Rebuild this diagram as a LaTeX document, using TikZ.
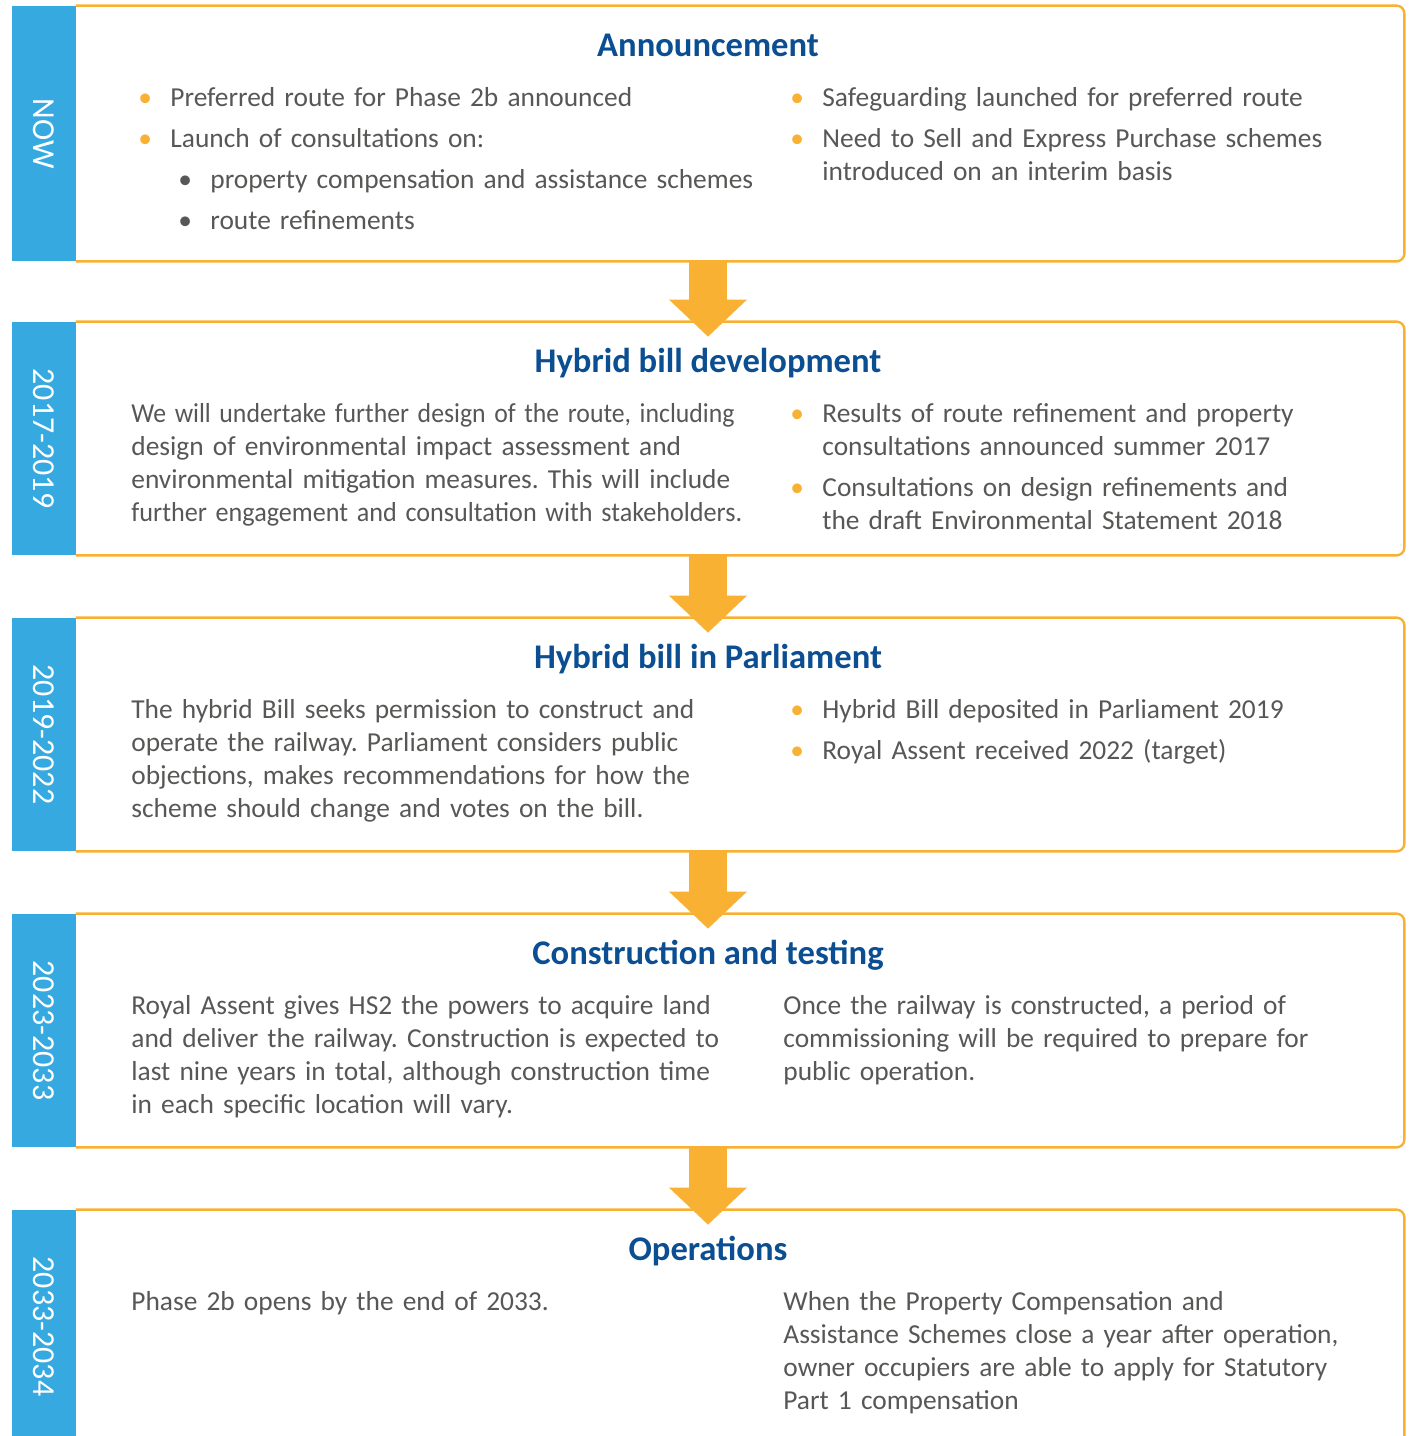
\documentclass[tikz,border=0pt]{standalone}
\usepackage{fontspec}
\usepackage{graphicx}
\setmainfont{Carlito}
\usetikzlibrary{arrows.meta}

\definecolor{tabblue}{HTML}{36A9E0}
\definecolor{stageorange}{HTML}{F8B133}
\definecolor{headblue}{HTML}{0B4E91}
\definecolor{bodygrey}{HTML}{575756}

% orange and grey bullet lines (items are split by \par)
\newcommand{\obul}{\hangindent=16pt\hangafter=1\makebox[16pt][l]{\textcolor{stageorange}{\textbullet}}}
\newcommand{\gbul}{\hangindent=36pt\hangafter=1\hspace*{20pt}\makebox[16pt][l]{\textcolor{bodygrey}{\textbullet}}}
% squeezed line
\newcommand{\tightline}[2]{\scalebox{#1}[1]{#2}}

\tikzset{
  stage/.style={minimum width=696pt, minimum height=116.5pt, inner sep=0pt},
  frameline/.style={draw=stageorange, line width=1.2pt, rounded corners=4pt},
  tabfill/.style={fill=tabblue},
  tabtext/.style={rotate=-90, text=white, font=\fontsize{16}{18}\selectfont},
  heading/.style={anchor=base, text=headblue, font=\fontsize{17.3}{19}\selectfont\bfseries},
  bodytext/.style={anchor=base west, inner sep=0pt, align=left, text=bodygrey,
    font=\fontsize{13.7}{16.65}\selectfont,
    execute at begin node={\setlength{\parskip}{4pt}\frenchspacing\hyphenpenalty=10000}},
  flowarrow/.style={draw=stageorange, line width=19pt,
    -{Triangle[width=39pt,length=18.5pt,line width=0pt]}, shorten >=-7.5pt}
}

\begin{document}
\begin{tikzpicture}[x=0.5pt,y=-0.5pt]
\useasboundingbox (0,0) rectangle (1409,1436);

% stages
\node[stage, minimum height=127.5pt] (now) at (708,133.5) {};
\node[stage] (devel) at (708,438.5) {};
\node[stage] (parl) at (708,734.5) {};
\node[stage] (build) at (708,1030.5) {};
\node[stage] (ops) at (708,1326.5) {};

\foreach \s/\t in {now/NOW, devel/2017-2019, parl/2019-2022, build/2023-2033, ops/2033-2034} {
  \fill[tabfill] (\s.north west) rectangle ([xshift=32pt]\s.south west);
  \node[tabtext] (\s-tab) at ([xshift=16pt]\s.west) {\t};
  \draw[frameline] ([xshift=32pt]\s.north west) -- (\s.north east) -- (\s.south east) -- ([xshift=32pt]\s.south west);
}

% arrows
\draw[flowarrow] (now.south) -- (devel.north);
\draw[flowarrow] (devel.south) -- (parl.north);
\draw[flowarrow] (parl.south) -- (build.north);
\draw[flowarrow] (build.south) -- (ops.north);

% Announcement
\node[heading] (now-head) at (708,56) {Announcement};
\node[bodytext, text width=360pt] (now-left) at (138,106) {%
\obul Preferred route for Phase 2b announced\par
\obul Launch of consultations on:\par
\gbul property compensation and assistance schemes\par
\gbul route refinements\par};
\node[bodytext, text width=320pt] (now-right) at (790,106) {%
\obul Safeguarding launched for preferred route\par
\obul Need to Sell and Express Purchase schemes\linebreak introduced on an interim basis\par};

% Hybrid bill development
\node[heading] (devel-head) at (708,372) {Hybrid bill development};
\node[bodytext, text width=360pt] (devel-left) at (131,422) {%
\tightline{0.94}{We will undertake further design of the route, including}\\
design of environmental impact assessment and\\
environmental mitigation measures. This will include\\
\tightline{0.955}{further engagement and consultation with stakeholders.}};
\node[bodytext, text width=320pt] (devel-right) at (790,422) {%
\obul Results of route refinement and property\linebreak consultations announced summer 2017\par
\obul Consultations on design refinements and\linebreak the draft Environmental Statement 2018\par};

% Hybrid bill in Parliament
\node[heading] (parl-head) at (708,668) {Hybrid bill in Parliament};
\node[bodytext, text width=360pt] (parl-left) at (131,718) {%
The hybrid Bill seeks permission to construct and\\
operate the railway. Parliament considers public\\
objections, makes recommendations for how the\\
scheme should change and votes on the bill.};
\node[bodytext, text width=320pt] (parl-right) at (790,718) {%
\obul Hybrid Bill deposited in Parliament 2019\par
\obul Royal Assent received 2022 (target)\par};

% Construction and testing
\node[heading] (build-head) at (708,964) {Construction and testing};
\node[bodytext, text width=360pt] (build-left) at (131,1014) {%
Royal Assent gives HS2 the powers to acquire land\\
and deliver the railway. Construction is expected to\\
last nine years in total, although construction time\\
in each specific location will vary.};
\node[bodytext, text width=320pt] (build-right) at (783,1014) {%
Once the railway is constructed, a period of\\
commissioning will be required to prepare for\\
public operation.};

% Operations
\node[heading] (ops-head) at (708,1260) {Operations};
\node[bodytext, text width=360pt] (ops-left) at (131,1310) {%
Phase 2b opens by the end of 2033.};
\node[bodytext, text width=320pt] (ops-right) at (783,1310) {%
When the Property Compensation and\\
Assistance Schemes close a year after operation,\\
owner occupiers are able to apply for Statutory\\
Part 1 compensation};
\end{tikzpicture}
\end{document}
